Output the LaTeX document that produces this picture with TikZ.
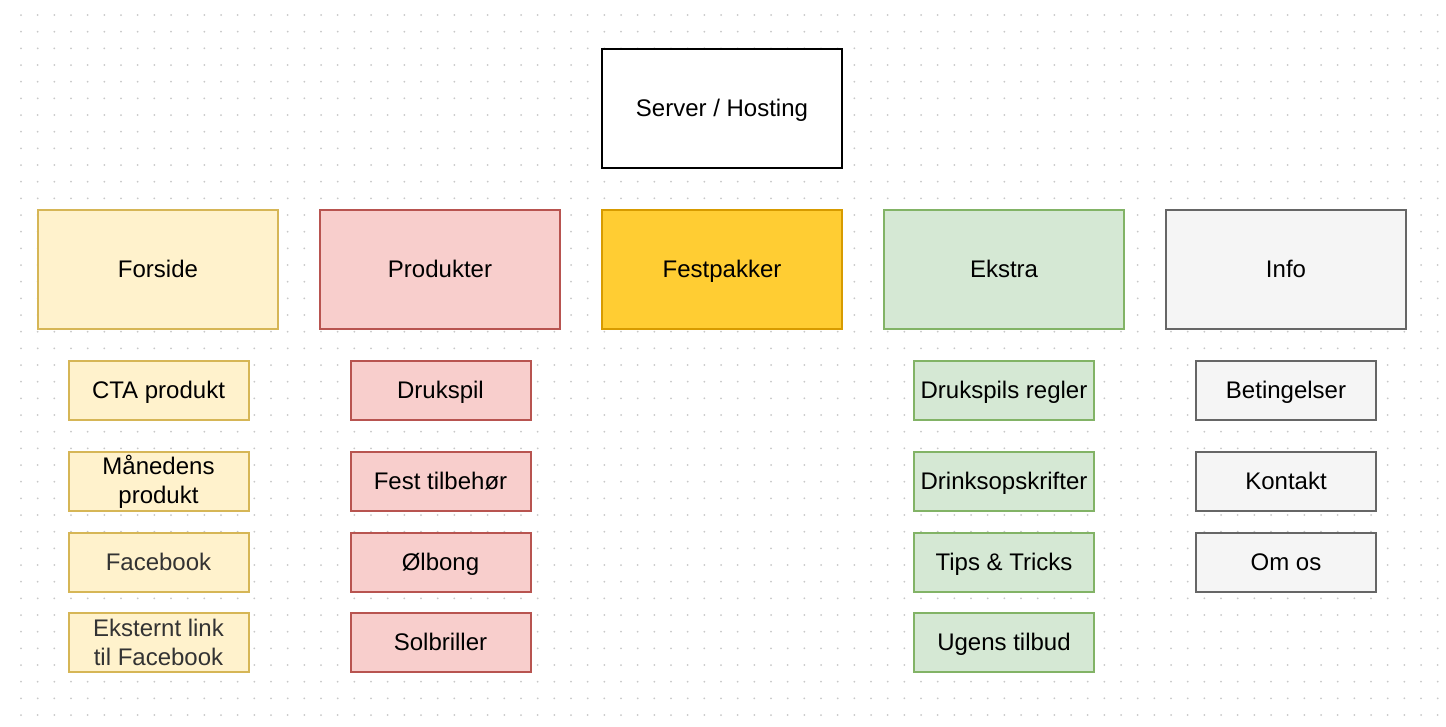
\documentclass[tikz,border=0pt]{standalone}
\usepackage{fontspec}
\setmainfont{Liberation Sans}
\definecolor{yfill}{HTML}{FFF2CC}\definecolor{ydraw}{HTML}{D6B656}
\definecolor{rfill}{HTML}{F8CECC}\definecolor{rdraw}{HTML}{B85450}
\definecolor{ofill}{HTML}{FFCD33}\definecolor{odraw}{HTML}{D79B00}
\definecolor{gfill}{HTML}{D5E8D4}\definecolor{gdraw}{HTML}{82B366}
\definecolor{wfill}{HTML}{F5F5F5}\definecolor{wdraw}{HTML}{666666}
\definecolor{dotc}{HTML}{C8C8C8}
\definecolor{txtgray}{HTML}{333333}
\begin{document}
\begin{tikzpicture}[x=1pt,y=-1pt,
  basebox/.style={rectangle,draw,line width=2pt,inner sep=0pt,align=center,
    font=\fontsize{24}{28.8}\selectfont},
  oneline/.style={text height=21.7pt,text depth=5.1pt},
  bigbox/.style={basebox,oneline,minimum width=240pt,minimum height=119pt},
  subbox/.style={basebox,oneline,minimum width=180pt,minimum height=59pt},
  twobox/.style={basebox,minimum width=180pt,minimum height=59pt},
  yel/.style={fill=yfill,draw=ydraw},
  red/.style={fill=rfill,draw=rdraw},
  ora/.style={fill=ofill,draw=odraw},
  grn/.style={fill=gfill,draw=gdraw},
  gry/.style={fill=wfill,draw=wdraw}]
\useasboundingbox (0,0) rectangle (1446,726);
\fill[white] (0,0) rectangle (1446,726);
% dot grid
\foreach \i in {0,...,85}{
  \foreach \j in {0,...,42}{
    \fill[dotc] ({21+16.6667*\i},{15+16.6667*\j}) circle (1);
  }
}
% top
\node[bigbox,fill=white,draw=black,line width=2.5pt] (server) at (722,108.5) {Server / Hosting};
% row of sections
\node[bigbox,yel] (forside) at (158,269.5) {Forside};
\node[bigbox,red] (produkter) at (440,269.5) {Produkter};
\node[bigbox,ora] (festpakker) at (722,269.5) {Festpakker};
\node[bigbox,grn] (ekstra) at (1004,269.5) {Ekstra};
\node[bigbox,gry] (info) at (1286,269.5) {Info};
% Forside
\node[subbox,yel] (cta) at (158.5,390.5) {CTA produkt};
\node[twobox,yel] (maaned) at (158.5,481.5) {Månedens\\produkt};
\node[subbox,yel,text=txtgray] (facebook) at (158.5,562) {Facebook};
\node[twobox,yel,text=txtgray] (ekstern) at (158.5,642.5) {Eksternt link\\til Facebook};
% Produkter
\node[subbox,red] (drukspil) at (440.5,390.5) {Drukspil};
\node[subbox,red] (fest) at (440.5,481.5) {Fest tilbehør};
\node[subbox,red] (olbong) at (440.5,562) {Ølbong};
\node[subbox,red] (solbriller) at (440.5,642.5) {Solbriller};
% Ekstra
\node[subbox,grn] (regler) at (1004,390.5) {Drukspils regler};
\node[subbox,grn] (drinks) at (1004,481.5) {Drinksopskrifter};
\node[subbox,grn] (tips) at (1004,562) {Tips \& Tricks};
\node[subbox,grn] (tilbud) at (1004,642.5) {Ugens tilbud};
% Info
\node[subbox,gry] (beting) at (1286,390.5) {Betingelser};
\node[subbox,gry] (kontakt) at (1286,481.5) {Kontakt};
\node[subbox,gry] (omos) at (1286,562) {Om os};
\end{tikzpicture}
\end{document}
